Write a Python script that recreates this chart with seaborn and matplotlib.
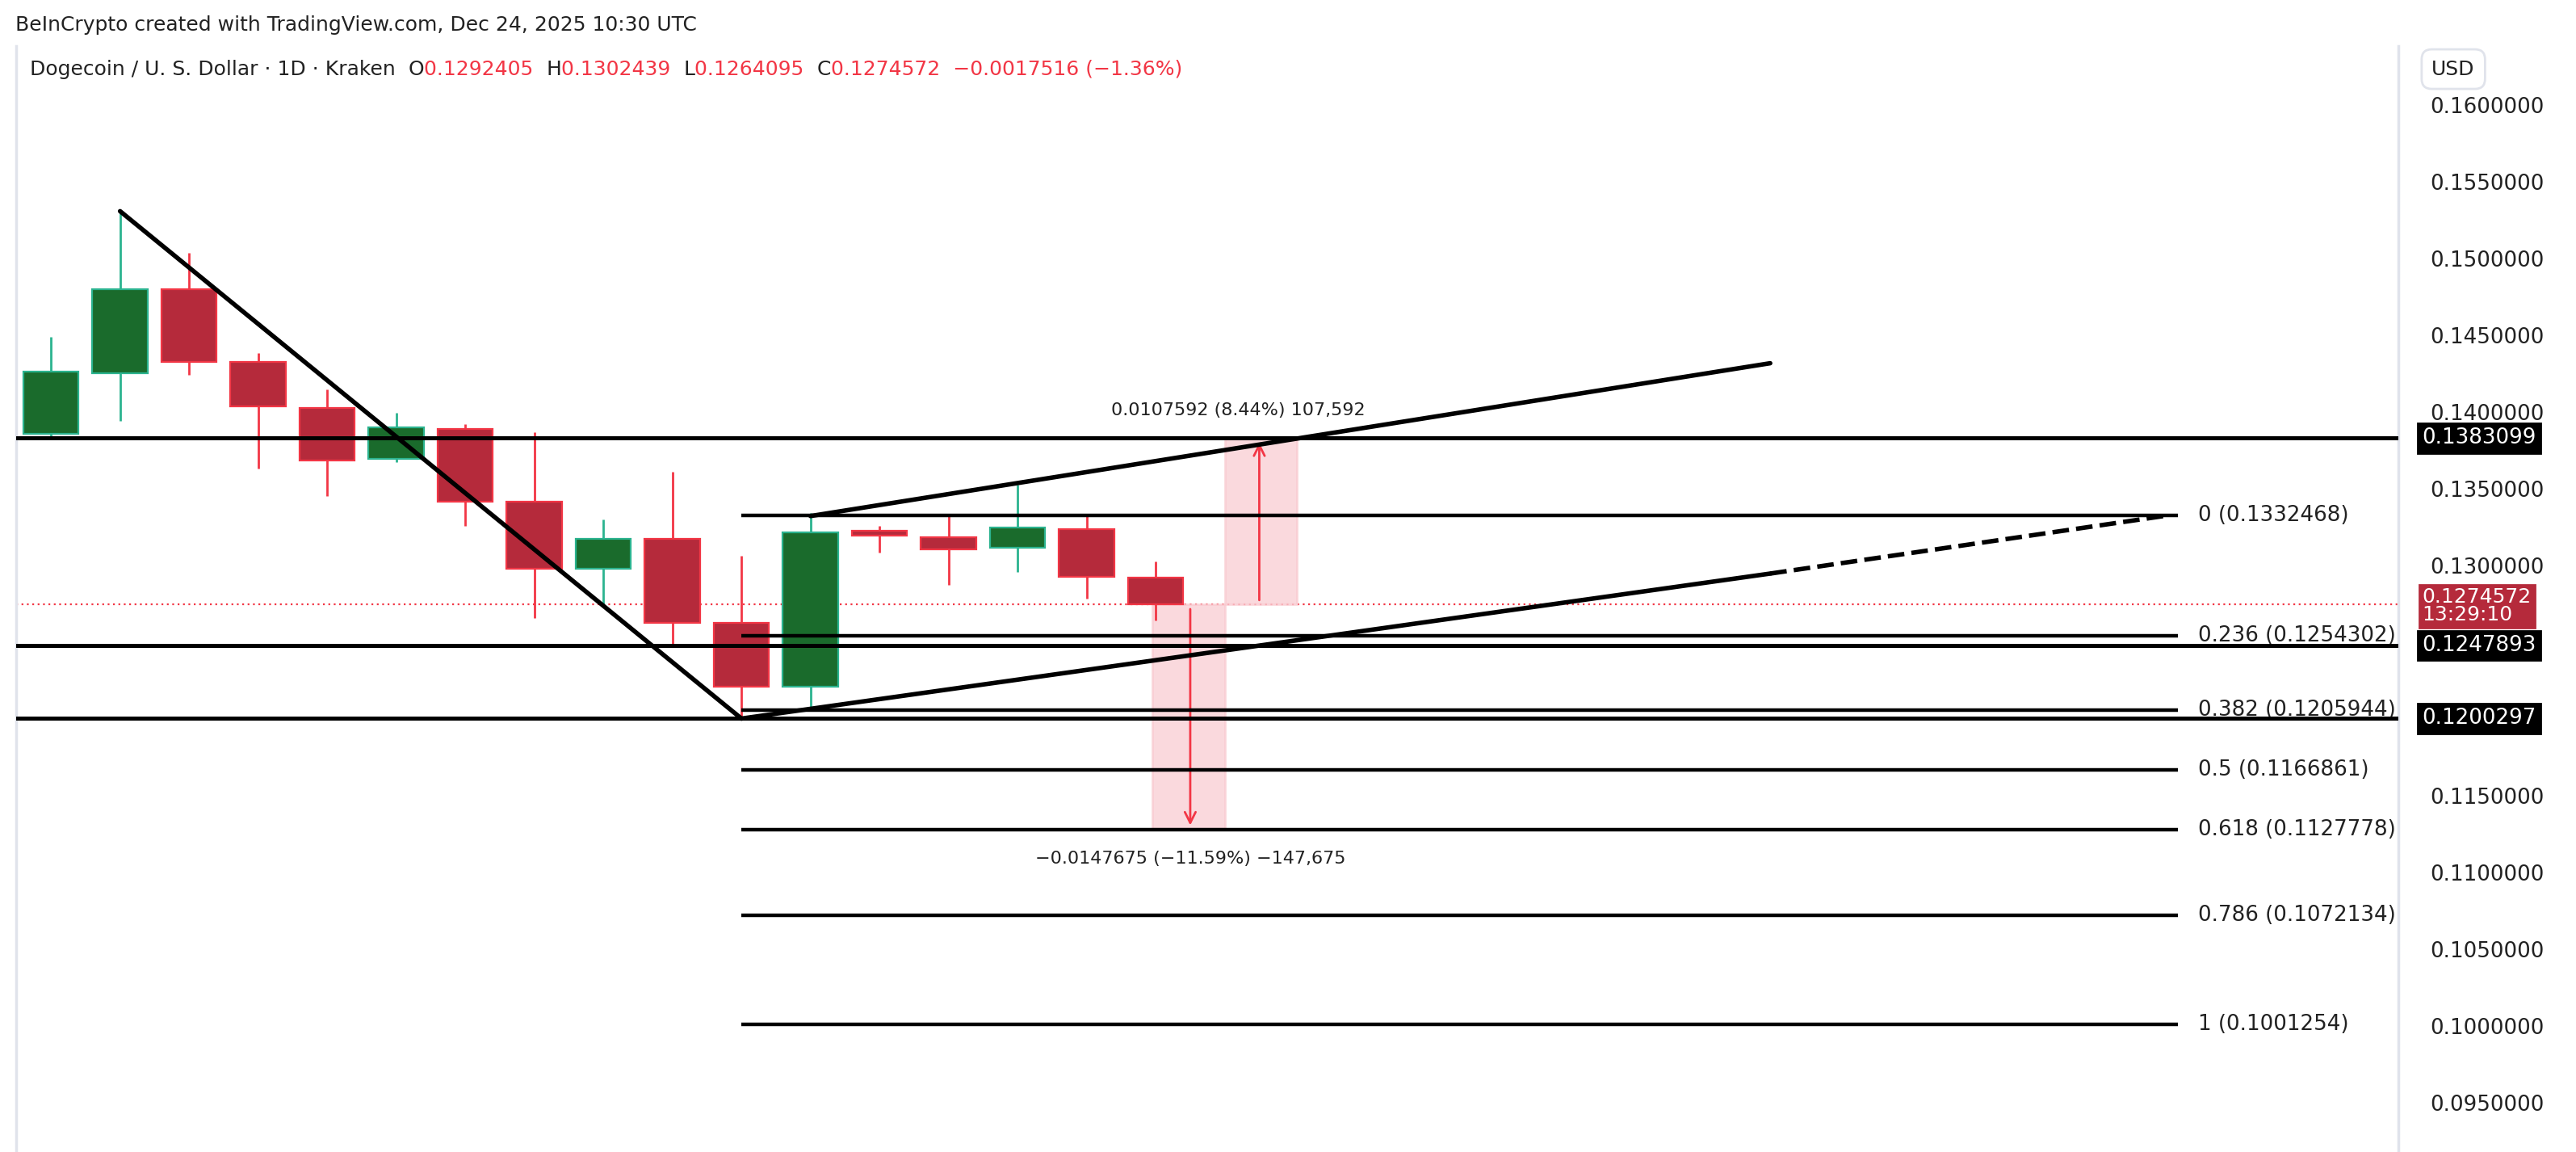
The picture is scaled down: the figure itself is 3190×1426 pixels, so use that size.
import matplotlib
matplotlib.use("Agg")
import matplotlib.pyplot as plt
import seaborn as sns
import pandas as pd
import numpy as np

sns.set_theme(style="white")
plt.rcParams['font.family'] = ['DejaVu Sans']

opens  = [0.13858,0.14254,0.14800,0.14329,0.14029,0.13697,0.13890,0.13419,0.12980,0.13173,0.12626,0.12209,0.13226,0.13183,0.13119,0.13237,0.1292405]
closes = [0.14265,0.14800,0.14329,0.14040,0.13687,0.13901,0.13419,0.12980,0.13173,0.12626,0.12209,0.13215,0.13194,0.13108,0.13248,0.12926,0.1274572]
highs  = [0.14490,0.15315,0.15036,0.14383,0.14147,0.13997,0.13922,0.13869,0.13301,0.13612,0.13066,0.13344,0.13258,0.13323,0.13526,0.13333,0.1302439]
lows   = [0.13837,0.13944,0.14244,0.13633,0.13451,0.13676,0.13258,0.12658,0.12744,0.12487,0.12003,0.12070,0.13087,0.12873,0.12958,0.12787,0.1264095]

fib_levels = ["0","0.236","0.382","0.5","0.618","0.786","1"]
fib_prices = [0.1332468,0.1254302,0.1205944,0.1166861,0.1127778,0.1072134,0.1001254]
hlines = [0.1383099,0.1247893,0.1200297]
current = 0.1274572
countdown = "13:29:10"
down_trend = pd.DataFrame({"x":[1,10],"y":[0.1531,0.12003]})
low_trend = pd.DataFrame({"x":[10,24.9],"y":[0.12003,0.12948]})
low_trend_ext = pd.DataFrame({"x":[24.9,30.6],"y":[0.12948,0.13323]})
up_trend = pd.DataFrame({"x":[11,24.9],"y":[0.13323,0.14319]})
yticks = [0.095+0.005*i for i in range(14)]

GREEN, GREEN_E = "#1a6b2c", "#2bb38f"
RED, RED_E = "#b52a3b", "#f23645"

fig = plt.figure(figsize=(15.95,7.13), dpi=200)
ax = fig.add_axes([0.0064,0.0,0.9247,0.96])
ax.set_xlim(-0.5,34.0)
ax.set_ylim(0.09178,0.16386)

for i,(o,c,h,l) in enumerate(zip(opens,closes,highs,lows)):
    up = c>=o
    ax.vlines(i,l,h,color=GREEN_E if up else RED_E,lw=1,zorder=2)
    ax.bar(i,abs(c-o) if abs(c-o)>0.0002 else 0.0002,bottom=min(o,c),width=0.8,
           color=GREEN if up else RED,edgecolor=GREEN_E if up else RED_E,lw=0.8,zorder=3)

for df,ls in [(down_trend,"-"),(low_trend,"-"),(up_trend,"-"),(low_trend_ext,"--")]:
    sns.lineplot(data=df,x="x",y="y",ax=ax,color="black",lw=2,linestyle=ls,zorder=4)

for p in hlines:
    ax.axhline(p,color="black",lw=1.8,zorder=4)
for lv,p in zip(fib_levels,fib_prices):
    ax.hlines(p,10,30.8,color="black",lw=1.6,zorder=4)
    ax.text(31.1,p,f"{lv} ({p:.7f})",va="center",ha="left",fontsize=9.4,color="#222")
ax.axhline(current,color=RED_E,lw=0.8,ls=(0,(1,2)),zorder=1)

ax.fill_between([17.0,18.05],current,hlines[0],color="#f9c9cf",alpha=0.7,zorder=1)
ax.annotate("",xy=(17.5,hlines[0]),xytext=(17.5,current),arrowprops=dict(arrowstyle="->",color=RED_E,lw=1))
ax.text(17.2,0.1398,"0.0107592 (8.44%) 107,592",ha="center",fontsize=8,color="#222")
ax.fill_between([15.95,17.0],fib_prices[4],current,color="#f9c9cf",alpha=0.7,zorder=1)
ax.annotate("",xy=(16.5,fib_prices[4]),xytext=(16.5,current),arrowprops=dict(arrowstyle="->",color=RED_E,lw=1))
ax.text(16.5,0.1106,"\u22120.0147675 (\u221211.59%) \u2212147,675",ha="center",fontsize=8,color="#222")

ax.yaxis.tick_right()
ax.set_yticks(yticks)
ax.set_yticklabels(["" if abs(t-0.125)<1e-6 or abs(t-0.12)<1e-6 else f"{t:.7f}" for t in yticks],fontsize=9.4,color="#222")
ax.tick_params(axis="y",length=0,pad=14)
ax.set_xticks([])
ax.set_xlabel(""); ax.set_ylabel("")
for s in ax.spines.values(): s.set_visible(False)
ax.spines["right"].set_visible(True); ax.spines["right"].set_color("#e0e3eb")
ax.spines["left"].set_visible(True); ax.spines["left"].set_color("#e0e3eb")

for p in hlines:
    ax.text(1.01,p,f"{p:.7f}",transform=ax.get_yaxis_transform(),va="center",ha="left",
            fontsize=9.4,color="white",bbox=dict(boxstyle="square,pad=0.2",fc="black",ec="black"),zorder=6)
ax.text(1.01,current-0.0001,f"{current:.7f}\n{countdown}",transform=ax.get_yaxis_transform(),va="center",ha="left",
        fontsize=9.0,color="white",linespacing=0.9,bbox=dict(boxstyle="square,pad=0.15",fc="#b52a3b",ec="#b52a3b"),zorder=6)

fig.text(0.006,0.978,"BeInCrypto created with TradingView.com, Dec 24, 2025 10:30 UTC",fontsize=9,color="#222",va="center")
parts = [("Dogecoin / U. S. Dollar \u00b7 1D \u00b7 Kraken  ","#222"),("O","#222"),("0.1292405  ",RED_E),("H","#222"),("0.1302439  ",RED_E),
         ("L","#222"),("0.1264095  ",RED_E),("C","#222"),("0.1274572  \u22120.0017516 (\u22121.36%)",RED_E)]
x = 0.0115
r = fig.canvas.get_renderer()
for t,c in parts:
    tx = fig.text(x,0.94,t,fontsize=9,color=c,va="center")
    bb = tx.get_window_extent(renderer=r)
    x += bb.width/fig.bbox.width
fig.text(0.944,0.94,"USD",fontsize=9,color="#222",va="center",
         bbox=dict(boxstyle="round,pad=0.5",fc="white",ec="#e0e3eb"))
fig.savefig("out.png",dpi=200)
